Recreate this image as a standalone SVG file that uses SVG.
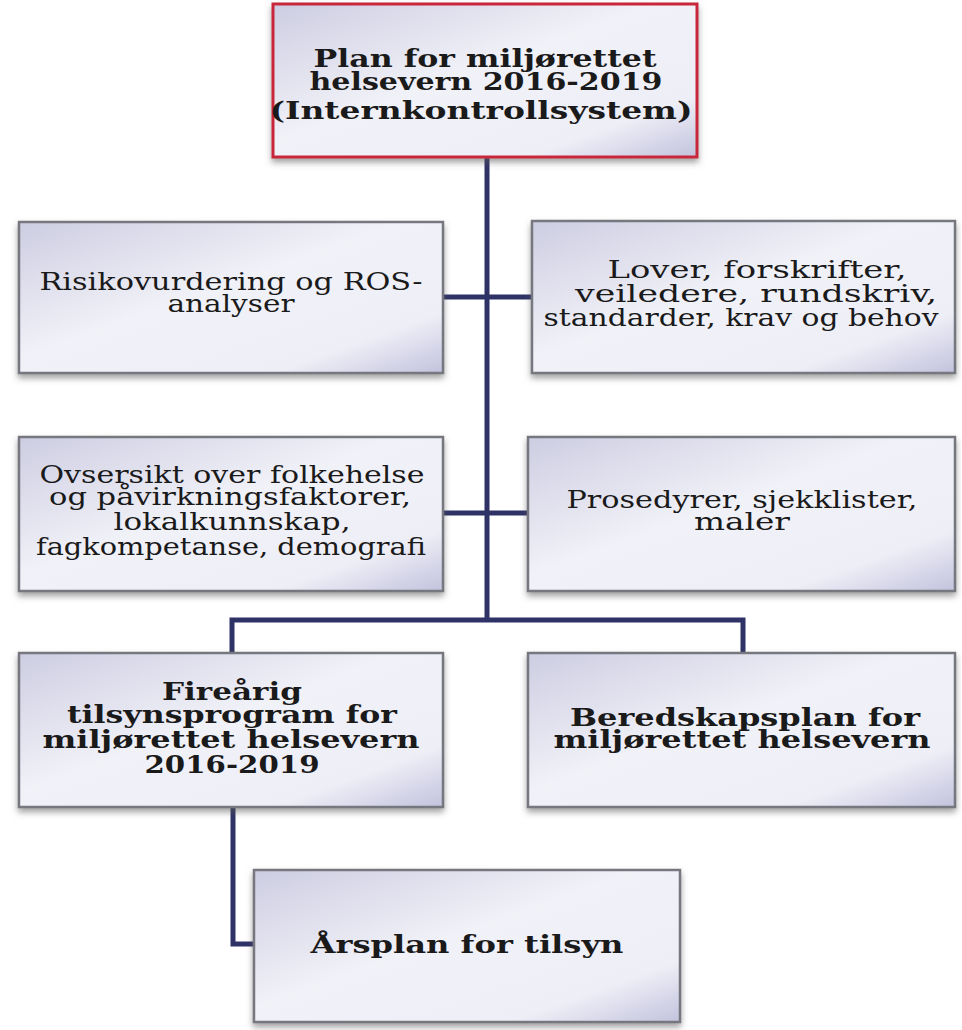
<svg xmlns="http://www.w3.org/2000/svg" width="962" height="1030" viewBox="0 0 962 1030">
<defs>
<linearGradient id="g" x1="0" y1="0" x2="1" y2="1">
<stop offset="0" stop-color="#cdcde2"/>
<stop offset="0.45" stop-color="#f1f1f8"/>
<stop offset="0.8" stop-color="#eeeef7"/>
<stop offset="1" stop-color="#c2c2dd"/>
</linearGradient>
<filter id="sh" x="-5%" y="-5%" width="112%" height="120%">
<feDropShadow dx="0" dy="4" stdDeviation="3" flood-color="#555" flood-opacity="0.55"/>
</filter>
</defs>
<style>
.box{fill:url(#g);stroke:#77777f;stroke-width:2.5;filter:url(#sh)}
.top{stroke:#c8283a;stroke-width:3}
.t{font-family:"DejaVu Serif","Liberation Serif",serif;font-size:24px;fill:#1a1a1a;text-anchor:middle}
.b{font-weight:bold;font-size:25px}
.c{stroke:#2f3266;fill:none;stroke-width:5;stroke-linejoin:miter}
</style>
<rect width="962" height="1030" fill="#ffffff"/>
<g id="connectors">
<path class="c" d="M487 157 V620"/>
<path class="c" d="M232 653 V620 H743 V653"/>
<path class="c" d="M443 297 H532" stroke-width="4"/>
<path class="c" d="M443 513 H528" stroke-width="4"/>
<path class="c" d="M233 807 V944 H254" stroke-width="4"/>
</g>
<g id="n-plan">
<rect class="box top" x="273" y="4" width="424" height="153"/>
<text class="t b" x="485" y="67" textLength="343" lengthAdjust="spacingAndGlyphs">Plan for miljørettet</text>
<text class="t b" x="486" y="90" textLength="353" lengthAdjust="spacingAndGlyphs">helsevern 2016-2019</text>
<text class="t b" x="481" y="119" textLength="423" lengthAdjust="spacingAndGlyphs">(Internkontrollsystem)</text>
</g>
<g id="n-risiko">
<rect class="box" x="19" y="222" width="424" height="151"/>
<text class="t" x="231" y="290" textLength="383" lengthAdjust="spacingAndGlyphs">Risikovurdering og ROS-</text>
<text class="t" x="231" y="312" textLength="127" lengthAdjust="spacingAndGlyphs">analyser</text>
</g>
<g id="n-lover">
<rect class="box" x="532" y="221" width="423" height="152"/>
<text class="t" x="757" y="278" textLength="299" lengthAdjust="spacingAndGlyphs">Lover, forskrifter,</text>
<text class="t" x="756" y="302" textLength="362" lengthAdjust="spacingAndGlyphs">veiledere, rundskriv,</text>
<text class="t" x="741" y="326" textLength="395" lengthAdjust="spacingAndGlyphs">standarder, krav og behov</text>
</g>
<g id="n-oversikt">
<rect class="box" x="19" y="437" width="424" height="154"/>
<text class="t" x="232" y="483" textLength="385" lengthAdjust="spacingAndGlyphs">Ovsersikt over folkehelse</text>
<text class="t" x="230" y="505" textLength="362" lengthAdjust="spacingAndGlyphs">og påvirkningsfaktorer,</text>
<text class="t" x="232" y="530" textLength="237" lengthAdjust="spacingAndGlyphs">lokalkunnskap,</text>
<text class="t" x="231" y="555" textLength="390" lengthAdjust="spacingAndGlyphs">fagkompetanse, demografi</text>
</g>
<g id="n-prosedyrer">
<rect class="box" x="528" y="437" width="427" height="154"/>
<text class="t" x="742" y="508" textLength="351" lengthAdjust="spacingAndGlyphs">Prosedyrer, sjekklister,</text>
<text class="t" x="742" y="530" textLength="96" lengthAdjust="spacingAndGlyphs">maler</text>
</g>
<g id="n-firearig">
<rect class="box" x="19" y="653" width="424" height="154"/>
<text class="t b" x="232" y="700" textLength="140" lengthAdjust="spacingAndGlyphs">Fireårig</text>
<text class="t b" x="232" y="723" textLength="330" lengthAdjust="spacingAndGlyphs">tilsynsprogram for</text>
<text class="t b" x="231" y="748" textLength="377" lengthAdjust="spacingAndGlyphs">miljørettet helsevern</text>
<text class="t b" x="232" y="773" textLength="175" lengthAdjust="spacingAndGlyphs">2016-2019</text>
</g>
<g id="n-beredskap">
<rect class="box" x="528" y="653" width="427" height="154"/>
<text class="t b" x="745" y="726" textLength="350" lengthAdjust="spacingAndGlyphs">Beredskapsplan for</text>
<text class="t b" x="742" y="748" textLength="377" lengthAdjust="spacingAndGlyphs">miljørettet helsevern</text>
</g>
<g id="n-arsplan">
<rect class="box" x="254" y="870" width="426" height="152"/>
<text class="t b" x="467" y="953" textLength="313" lengthAdjust="spacingAndGlyphs">Årsplan for tilsyn</text>
</g>
</svg>
